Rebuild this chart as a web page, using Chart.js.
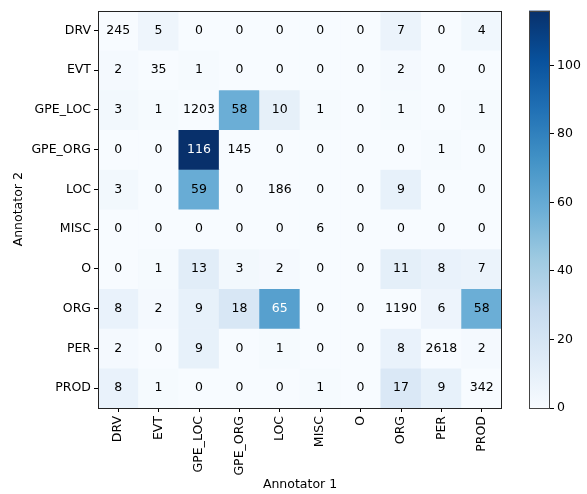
<!DOCTYPE html>
<html>
<head>
<meta charset="utf-8">
<script src="https://cdn.jsdelivr.net/npm/chart.js@4.4.1/dist/chart.umd.min.js"></script>
<style>
  html, body { margin: 0; padding: 0; background: #fff; }
  #wrap { position: relative; width: 587px; height: 494px; }
  #wrap canvas { position: absolute; left: 0; top: 0; }
</style>
</head>
<body>
<div id="wrap">
  <canvas id="matrix" width="587" height="494"></canvas>
  <canvas id="colorbar" width="587" height="494"></canvas>
</div>
<script>
// labels for both annotators (same tag set)
const colLabels = ['DRV', 'EVT', 'GPE_LOC', 'GPE_ORG', 'LOC', 'MISC', 'O', 'ORG', 'PER', 'PROD'];
const rowLabels = ['DRV', 'EVT', 'GPE_LOC', 'GPE_ORG', 'LOC', 'MISC', 'O', 'ORG', 'PER', 'PROD'];

// one array per row (Annotator 2), values per column (Annotator 1)
const rowDRV = [245, 5, 0, 0, 0, 0, 0, 7, 0, 4];
const rowEVT = [2, 35, 1, 0, 0, 0, 0, 2, 0, 0];
const rowGPE_LOC = [3, 1, 1203, 58, 10, 1, 0, 1, 0, 1];
const rowGPE_ORG = [0, 0, 116, 145, 0, 0, 0, 0, 1, 0];
const rowLOC = [3, 0, 59, 0, 186, 0, 0, 9, 0, 0];
const rowMISC = [0, 0, 0, 0, 0, 6, 0, 0, 0, 0];
const rowO = [0, 1, 13, 3, 2, 0, 0, 11, 8, 7];
const rowORG = [8, 2, 9, 18, 65, 0, 0, 1190, 6, 58];
const rowPER = [2, 0, 9, 0, 1, 0, 0, 8, 2618, 2];
const rowPROD = [8, 1, 0, 0, 0, 1, 0, 17, 9, 342];

const matrix = [rowDRV, rowEVT, rowGPE_LOC, rowGPE_ORG, rowLOC, rowMISC, rowO, rowORG, rowPER, rowPROD];

const colorbarTicks = [0, 20, 40, 60, 80, 100];
const vmax = 116;

const FONT = 'DejaVu Sans, sans-serif';
const FSIZE = 12.5;

// matplotlib "Blues"
const blues = [
    [247, 251, 255], [222, 235, 247], [198, 219, 239], [158, 202, 225],
    [107, 174, 214], [66, 146, 198], [33, 113, 181], [8, 81, 156], [8, 48, 107]
];

function bluesColor(t) {
    t = Math.max(0, Math.min(1, t));
    const pos = t * (blues.length - 1);
    const i = Math.min(Math.floor(pos), blues.length - 2);
    const f = pos - i;
    const a = blues[i], b = blues[i + 1];
    const c = a.map((v, k) => Math.round(v + (b[k] - v) * f));
    return `rgb(${c[0]},${c[1]},${c[2]})`;
}

// diagonal (agreement) is not coloured, only the disagreements
function shadeValue(r, c) {
    return r === c ? 0 : matrix[r][c];
}

const frame = {
    id: 'frame',
    afterDraw(chart) {
        const a = chart.chartArea;
        const ctx = chart.ctx;
        ctx.save();
        ctx.strokeStyle = chart.options.plugins.frame.color;
        ctx.lineWidth = 1;
        ctx.strokeRect(Math.round(a.left) + 0.5, Math.round(a.top) + 0.5,
            Math.round(a.right - a.left) - 1, Math.round(a.bottom - a.top) - 1);
        ctx.restore();
    }
};

const cellText = {
    id: 'cellText',
    afterDatasetsDraw(chart) {
        const ctx = chart.ctx;
        ctx.save();
        ctx.font = FSIZE + 'px ' + FONT;
        ctx.textAlign = 'center';
        ctx.textBaseline = 'middle';
        chart.data.datasets.forEach((ds, r) => {
            const meta = chart.getDatasetMeta(r);
            meta.data.forEach((bar, c) => {
                const v = matrix[r][c];
                ctx.fillStyle = shadeValue(r, c) > 60 ? '#fff' : '#000';
                ctx.fillText(String(v), bar.x, (bar.y + bar.base) / 2);
            });
        });
        ctx.restore();
    }
};

function initializeMatrixChart() {
    const canvas = document.getElementById('matrix');
    const datasets = matrix.map((row, r) => ({
        label: rowLabels[r],
        data: row.map(() => [r, r + 1]),
        backgroundColor: row.map((v, c) => bluesColor(shadeValue(r, c) / vmax)),
        borderWidth: 0,
        grouped: false,
        barPercentage: 1,
        categoryPercentage: 1
    }));

    new Chart(canvas, {
        type: 'bar',
        data: { labels: colLabels, datasets: datasets },
        plugins: [cellText, frame],
        options: {
            responsive: false,
            animation: false,
            events: [],
            layout: { padding: { top: 5, right: 85, left: 0, bottom: 0 } },
            plugins: {
                legend: { display: false },
                tooltip: { enabled: false },
                frame: { color: '#222' }
            },
            scales: {
                x: {
                    grid: { display: true, drawOnChartArea: false, drawTicks: true, tickLength: 4, tickColor: '#000', offset: false },
                    border: { display: false },
                    ticks: { color: '#000', font: { family: FONT, size: FSIZE }, maxRotation: 90, minRotation: 90, padding: 4, autoSkip: false },
                    title: { display: true, text: 'Annotator 1', color: '#000', font: { family: FONT, size: FSIZE }, padding: { top: 4, bottom: 2 } },
                    afterFit(scale) { scale.height = 86; }
                },
                y: {
                    type: 'linear',
                    min: 0,
                    max: 10,
                    reverse: true,
                    grid: { display: true, drawOnChartArea: false, drawTicks: true, tickLength: 4, tickColor: '#000' },
                    border: { display: false },
                    afterBuildTicks(scale) {
                        scale.ticks = rowLabels.map((_, i) => ({ value: i + 0.5 }));
                    },
                    ticks: {
                        color: '#000',
                        font: { family: FONT, size: FSIZE },
                        padding: 3,
                        autoSkip: false,
                        callback: (v) => rowLabels[Math.floor(v)]
                    },
                    title: { display: true, text: 'Annotator 2', color: '#000', font: { family: FONT, size: FSIZE }, padding: { top: 11, bottom: 4 } },
                    afterFit(scale) { scale.width = 98; }
                }
            }
        }
    });
}

function initializeColorbar() {
    const canvas = document.getElementById('colorbar');
    new Chart(canvas, {
        type: 'bar',
        data: {
            labels: ['cb'],
            datasets: [{
                data: [vmax],
                borderWidth: 0,
                barPercentage: 1,
                categoryPercentage: 1,
                backgroundColor(ctx) {
                    const a = ctx.chart.chartArea;
                    if (!a) return blues[0];
                    const g = ctx.chart.ctx.createLinearGradient(0, a.bottom, 0, a.top);
                    blues.forEach((c, i) => g.addColorStop(i / (blues.length - 1), `rgb(${c[0]},${c[1]},${c[2]})`));
                    return g;
                }
            }]
        },
        plugins: [frame],
        options: {
            responsive: false,
            animation: false,
            events: [],
            layout: { padding: { top: 5, left: 529, right: 0, bottom: 86 } },
            plugins: {
                legend: { display: false },
                tooltip: { enabled: false },
                frame: { color: '#444' }
            },
            scales: {
                x: { display: false },
                y: {
                    position: 'right',
                    min: 0,
                    max: vmax,
                    grid: { display: true, drawOnChartArea: false, drawTicks: true, tickLength: 4, tickColor: '#000' },
                    border: { display: false },
                    afterBuildTicks(scale) {
                        scale.ticks = colorbarTicks.map((v) => ({ value: v }));
                    },
                    ticks: { color: '#000', font: { family: FONT, size: FSIZE }, padding: 3 },
                    afterFit(scale) { scale.width = 37; }
                }
            }
        }
    });
}

document.addEventListener('DOMContentLoaded', function () {
    initializeMatrixChart();
    initializeColorbar();
});
</script>
</body>
</html>
